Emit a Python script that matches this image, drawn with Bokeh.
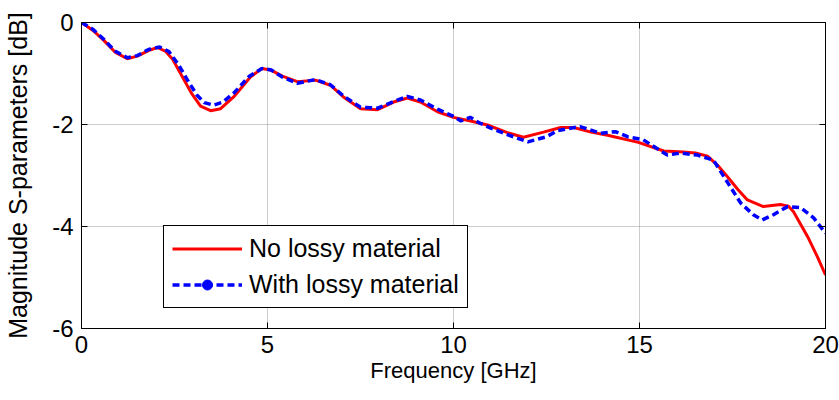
from bokeh.plotting import figure
from bokeh.models import Range1d, LinearAxis, Legend, LegendItem, FixedTicker, CustomJSTickFormatter
from bokeh.embed import file_html
from bokeh.resources import INLINE

freq_red = [0, 0.3, 0.6, 0.9, 1.23, 1.5, 1.8, 2.04, 2.25, 2.45, 2.7, 2.95, 3.2, 3.47, 3.74, 4.09, 4.54, 4.85,
            5.08, 5.4, 5.8, 6.29, 6.69, 7.04, 7.5, 7.96, 8.39, 8.76, 9.11, 9.57, 10.0, 10.46, 10.91, 11.45,
            11.88, 12.42, 12.88, 13.23, 13.7, 14.14, 14.97, 15.65, 16.18, 16.5, 16.83, 17.1, 17.37, 17.65,
            17.9, 18.33, 18.79, 19.0, 19.14, 19.35, 19.52, 19.78, 20.0]
db_red = [0, -0.15, -0.35, -0.58, -0.71, -0.66, -0.55, -0.49, -0.56, -0.72, -1.05, -1.38, -1.64, -1.73, -1.69,
          -1.46, -1.07, -0.9, -0.93, -1.05, -1.16, -1.13, -1.23, -1.46, -1.69, -1.71, -1.56, -1.48, -1.56,
          -1.75, -1.86, -1.93, -2.01, -2.16, -2.25, -2.15, -2.06, -2.06, -2.15, -2.21, -2.35, -2.52, -2.54,
          -2.56, -2.62, -2.8, -3.03, -3.28, -3.48, -3.61, -3.57, -3.6, -3.71, -3.98, -4.2, -4.59, -4.95]

freq_blue = [0, 0.3, 0.6, 0.9, 1.23, 1.5, 1.8, 2.1, 2.35, 2.6, 2.85, 3.1, 3.3, 3.55, 3.8, 4.1, 4.5, 4.85,
             5.1, 5.4, 5.8, 6.29, 6.69, 7.04, 7.5, 7.96, 8.39, 8.76, 9.11, 9.57, 10.0, 10.2, 10.45, 10.7,
             11.0, 11.45, 12.0, 12.5, 12.8, 13.4, 13.95, 14.35, 14.68, 15.1, 15.75, 16.1, 16.56, 16.99,
             17.37, 17.72, 18.06, 18.3, 18.6, 18.98, 19.33, 19.68, 20.0]
db_blue = [0, -0.13, -0.33, -0.56, -0.69, -0.65, -0.53, -0.48, -0.57, -0.82, -1.13, -1.42, -1.57, -1.62,
           -1.56, -1.38, -1.06, -0.9, -0.93, -1.07, -1.19, -1.12, -1.22, -1.44, -1.66, -1.68, -1.55, -1.45,
           -1.52, -1.70, -1.84, -1.93, -1.86, -1.97, -2.07, -2.20, -2.34, -2.24, -2.12, -2.04, -2.17, -2.14,
           -2.24, -2.30, -2.60, -2.56, -2.60, -2.70, -3.14, -3.54, -3.77, -3.87, -3.77, -3.61, -3.63, -3.83,
           -4.13]

x_ticks = [0, 5, 10, 15, 20]
y_ticks = [-6, -4, -2, 0]
series_names = ["No lossy material", "With lossy material"]

FONT = "Liberation Sans"

p = figure(width=839, height=400, output_backend="svg", toolbar_location=None,
           x_range=Range1d(0, 20), y_range=Range1d(-6, 0),
           min_border_left=81, min_border_right=14, min_border_top=22, min_border_bottom=72)
p.outline_line_color = "black"
p.outline_line_width = 1
p.background_fill_color = "white"
p.border_fill_color = "white"

r_red = p.line(freq_red, db_red, line_color="#ff0000", line_width=3)
r_blue = p.line(freq_blue, db_blue, line_color="#0000ff", line_width=3.5, line_dash="7 4")
# legend-only marker (kept outside the visible range)
r_dot = p.scatter(x=[-100], y=[-100], marker="circle", size=7, fill_color="#0000ff", line_color="#0000ff")

fmt = CustomJSTickFormatter(code="return tick.toString();")
blank = CustomJSTickFormatter(code="return '';")

def style_axis(ax, labels=True):
    ax.axis_line_color = "black"
    ax.axis_line_width = 1
    ax.major_tick_in = 6
    ax.major_tick_out = 0
    ax.minor_tick_in = 0
    ax.minor_tick_out = 0
    ax.major_tick_line_color = "black"
    ax.major_label_text_font = FONT
    ax.major_label_text_font_size = "24px"
    ax.major_label_text_color = "black"
    ax.axis_label_text_font = FONT
    ax.axis_label_text_font_style = "normal"
    ax.axis_label_text_color = "black"
    ax.formatter = fmt if labels else blank

xa = p.xaxis[0]
xa.ticker = FixedTicker(ticks=x_ticks)
style_axis(xa)
xa.axis_label = "Frequency [GHz]"
xa.axis_label_text_font_size = "22px"
xa.major_label_standoff = 7
xa.axis_label_standoff = 2
ya = p.yaxis[0]
ya.ticker = FixedTicker(ticks=y_ticks)
style_axis(ya)
ya.axis_label = "Magnitude S-parameters [dB]"
ya.axis_label_text_font_size = "25px"
ya.major_label_standoff = 8
ya.axis_label_standoff = 17

top = LinearAxis(ticker=FixedTicker(ticks=x_ticks))
style_axis(top, labels=False)
top.major_label_standoff = 0
p.add_layout(top, "above")
right = LinearAxis(ticker=FixedTicker(ticks=y_ticks))
style_axis(right, labels=False)
right.major_label_standoff = 0
p.add_layout(right, "right")

for g in (p.xgrid[0], p.ygrid[0]):
    g.grid_line_color = "#808080"
    g.grid_line_width = 1
    g.grid_line_dash = "1 1"
    g.grid_line_alpha = 0.8

legend = Legend(items=[LegendItem(label=series_names[0], renderers=[r_red]),
                       LegendItem(label=series_names[1], renderers=[r_blue, r_dot])],
                location=(82, 20))
legend.border_line_color = "black"
legend.border_line_width = 1
legend.border_line_alpha = 1
legend.background_fill_color = "white"
legend.background_fill_alpha = 1
legend.label_text_font = FONT
legend.label_text_font_size = "25px"
legend.label_text_color = "black"
legend.label_text_baseline = "middle"
legend.glyph_width = 70
legend.glyph_height = 25
legend.label_height = 25
legend.label_standoff = 7
legend.spacing = 7
legend.padding = 8
legend.margin = 0
p.add_layout(legend, "center")

open("out.html", "w").write(file_html(p, INLINE))
